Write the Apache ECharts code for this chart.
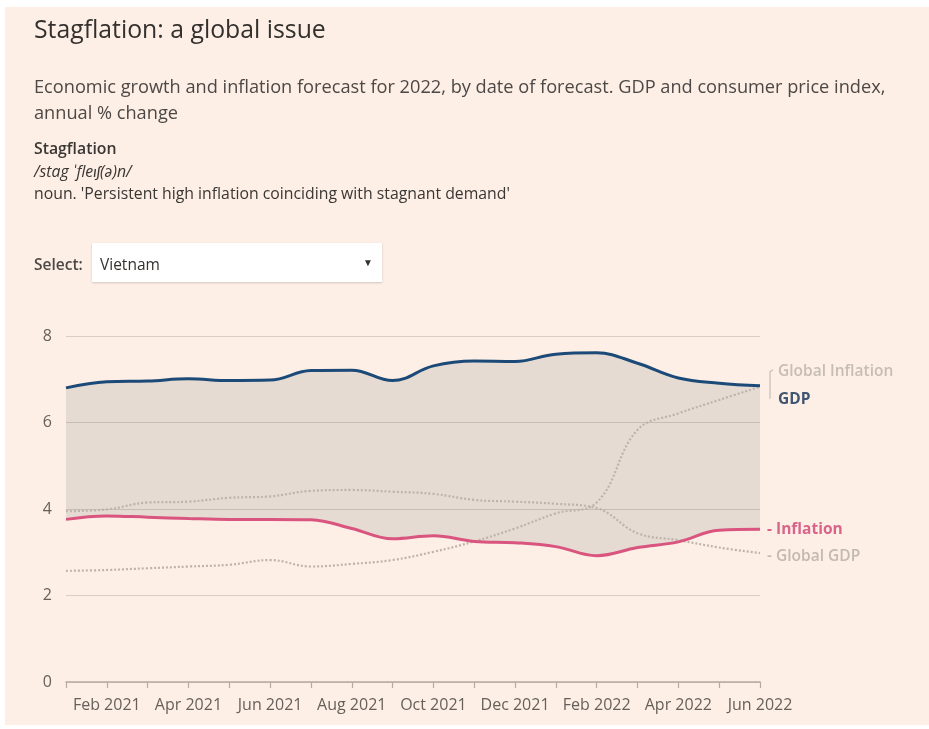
<!DOCTYPE html>
<html>
<head>
<meta charset="utf-8">
<script src="https://cdn.jsdelivr.net/npm/echarts@6/dist/echarts.min.js"></script>
<style>
  html, body { margin: 0; padding: 0; background: #ffffff; width: 929px; height: 729px; overflow: hidden; }
  #panel { position: absolute; left: 5px; top: 7px; width: 924px; height: 718px; background: #fdefe5; }
  #chart { position: absolute; left: 0; top: 0; width: 929px; height: 729px; }
  .txt { position: absolute; left: 34px; font-family: "Open Sans", Lato, sans-serif; white-space: nowrap; }
  #title { top: 12px; font-size: 24.8px; line-height: 32px; color: #33302e; }
  #sub { top: 73px; font-size: 18.2px; line-height: 26px; color: #4d4845; }
  #defn { top: 137px; font-size: 15.8px; line-height: 22.5px; color: #3a3633; }
  #defn b { font-weight: 600; }
  #defn i { font-style: italic; }
  #selLabel { top: 253px; font-size: 15.5px; line-height: 22px; font-weight: 600; color: #4d4845; }
  #selBox { position: absolute; left: 92px; top: 243px; width: 290px; height: 39px; background: #ffffff;
            box-shadow: 0 1px 2px rgba(0,0,0,0.18); font-family: "Open Sans", Lato, sans-serif; }
  #selBox span.v { position: absolute; left: 8px; top: 10px; font-size: 15.5px; line-height: 22px; color: #33302e; }
  #selBox span.a { position: absolute; right: 9px; top: 12px; font-size: 10px; line-height: 14px; color: #33302e; }
</style>
</head>
<body>
<div id="panel"></div>
<div id="chart"></div>
<div class="txt" id="title">Stagflation: a global issue</div>
<div class="txt" id="sub">Economic growth and inflation forecast for 2022, by date of forecast. GDP and consumer price index,<br>annual % change</div>
<div class="txt" id="defn"><b>Stagflation</b><br><i>/stag &#712;fle&#618;&#643;(&#601;)n/</i><br>noun. 'Persistent high inflation coinciding with stagnant demand'</div>
<div class="txt" id="selLabel">Select:</div>
<div id="selBox"><span class="v">Vietnam</span><span class="a">&#9660;</span></div>
<script>
// Month of forecast
const months = ['Jan 2021', 'Feb 2021', 'Mar 2021', 'Apr 2021', 'May 2021', 'Jun 2021',
                'Jul 2021', 'Aug 2021', 'Sep 2021', 'Oct 2021', 'Nov 2021', 'Dec 2021',
                'Jan 2022', 'Feb 2022', 'Mar 2022', 'Apr 2022', 'May 2022', 'Jun 2022'];

// Vietnam 2022 forecasts, annual % change
const gdp       = [6.80, 6.94, 6.96, 7.01, 6.97, 6.98, 7.20, 7.21, 6.97, 7.31, 7.42, 7.41,
                   7.58, 7.61, 7.37, 7.03, 6.91, 6.85];
const inflation = [3.76, 3.84, 3.81, 3.78, 3.76, 3.76, 3.75, 3.55, 3.31, 3.38, 3.25, 3.22,
                   3.13, 2.92, 3.11, 3.24, 3.51, 3.53];

// Global 2022 forecasts, annual % change
const globalGdp       = [3.95, 3.99, 4.15, 4.17, 4.26, 4.29, 4.42, 4.44, 4.40, 4.35, 4.21, 4.17,
                         4.12, 4.02, 3.44, 3.28, 3.11, 2.98];
const globalInflation = [2.57, 2.59, 2.63, 2.67, 2.71, 2.82, 2.67, 2.73, 2.82, 3.01, 3.25, 3.55,
                         3.90, 4.15, 5.83, 6.21, 6.52, 6.83];

const yTicks = [0, 2, 4, 6, 8];

const FONT = 'Open Sans';
const NAVY = '#1c4a78';
const PINK = '#d9557f';
const GREY_DOT = '#bdb3aa';

// band between inflation (base) and GDP (top)
const bandHeight = gdp.map((g, i) => +(g - inflation[i]).toFixed(3));

const chart = echarts.init(document.getElementById('chart'), null, { renderer: 'canvas' });

const baseLine = { type: 'line', smooth: 0.4, showSymbol: false, symbol: 'none', silent: true };

chart.setOption({
  backgroundColor: 'transparent',
  animation: false,
  textStyle: { fontFamily: FONT },
  grid: { left: 66, right: 169, top: 336, bottom: 47 },
  xAxis: {
    type: 'category',
    data: months,
    boundaryGap: false,
    axisLine: { lineStyle: { color: '#b5aba2', width: 1.5 } },
    axisTick: { interval: 0, length: 6, lineStyle: { color: '#b5aba2', width: 1.2 } },
    axisLabel: {
      interval: (i) => i % 2 === 1,
      color: '#66605b', fontSize: 16, fontFamily: FONT, margin: 15
    },
    splitLine: { show: false }
  },
  yAxis: {
    type: 'value',
    min: yTicks[0], max: yTicks[yTicks.length - 1], interval: 2,
    axisLine: { show: false },
    axisTick: { show: false },
    axisLabel: { color: '#66605b', fontSize: 16, fontFamily: FONT, margin: 14 },
    splitLine: { lineStyle: { color: '#d8cec5', width: 1.2 } }
  },
  series: [
    Object.assign({}, baseLine, {
      name: 'band-base', stack: 'band', data: inflation,
      lineStyle: { opacity: 0 }, z: 1
    }),
    Object.assign({}, baseLine, {
      name: 'band', stack: 'band', data: bandHeight,
      lineStyle: { opacity: 0 },
      areaStyle: { color: 'rgba(60,70,75,0.12)', opacity: 1 }, z: 1
    }),
    Object.assign({}, baseLine, {
      name: 'Global GDP', data: globalGdp, z: 3,
      lineStyle: { color: GREY_DOT, width: 2.2, type: [2, 2] },
      endLabel: {
        show: true, formatter: '- Global GDP', color: '#c2b9b1', fontSize: 15.5,
        fontWeight: 600, fontFamily: FONT, distance: 7, offset: [0, 3]
      }
    }),
    Object.assign({}, baseLine, {
      name: 'Global Inflation', data: globalInflation, z: 3,
      lineStyle: { color: GREY_DOT, width: 2.2, type: [2, 2] },
      endLabel: {
        show: true, formatter: 'Global Inflation', color: '#c6bdb5', fontSize: 15.5,
        fontWeight: 600, fontFamily: FONT, distance: 18, offset: [0, -15]
      }
    }),
    Object.assign({}, baseLine, {
      name: 'Inflation', data: inflation, z: 4,
      lineStyle: { color: PINK, width: 3 },
      endLabel: {
        show: true, formatter: '- Inflation', color: '#d9648a', fontSize: 15.5,
        fontWeight: 700, fontFamily: FONT, distance: 7, offset: [0, 0]
      }
    }),
    Object.assign({}, baseLine, {
      name: 'GDP', data: gdp, z: 5,
      lineStyle: { color: NAVY, width: 3 },
      endLabel: {
        show: true, formatter: 'GDP', color: '#3f5570', fontSize: 15.5,
        fontWeight: 700, fontFamily: FONT, distance: 18, offset: [0, 14]
      }
    })
  ]
});

// bracket tying the two labels at the GDP / global inflation end points
const last = months.length - 1;
const [ex, ey] = chart.convertToPixel({ xAxisIndex: 0, yAxisIndex: 0 }, [last, gdp[last]]);
chart.setOption({
  graphic: [{
    type: 'polyline',
    silent: true,
    shape: { points: [[ex + 13, ey - 16], [ex + 10, ey - 14], [ex + 10, ey + 13]] },
    style: { stroke: '#c6bdb5', lineWidth: 1.2, fill: null }
  }]
});
</script>
</body>
</html>
